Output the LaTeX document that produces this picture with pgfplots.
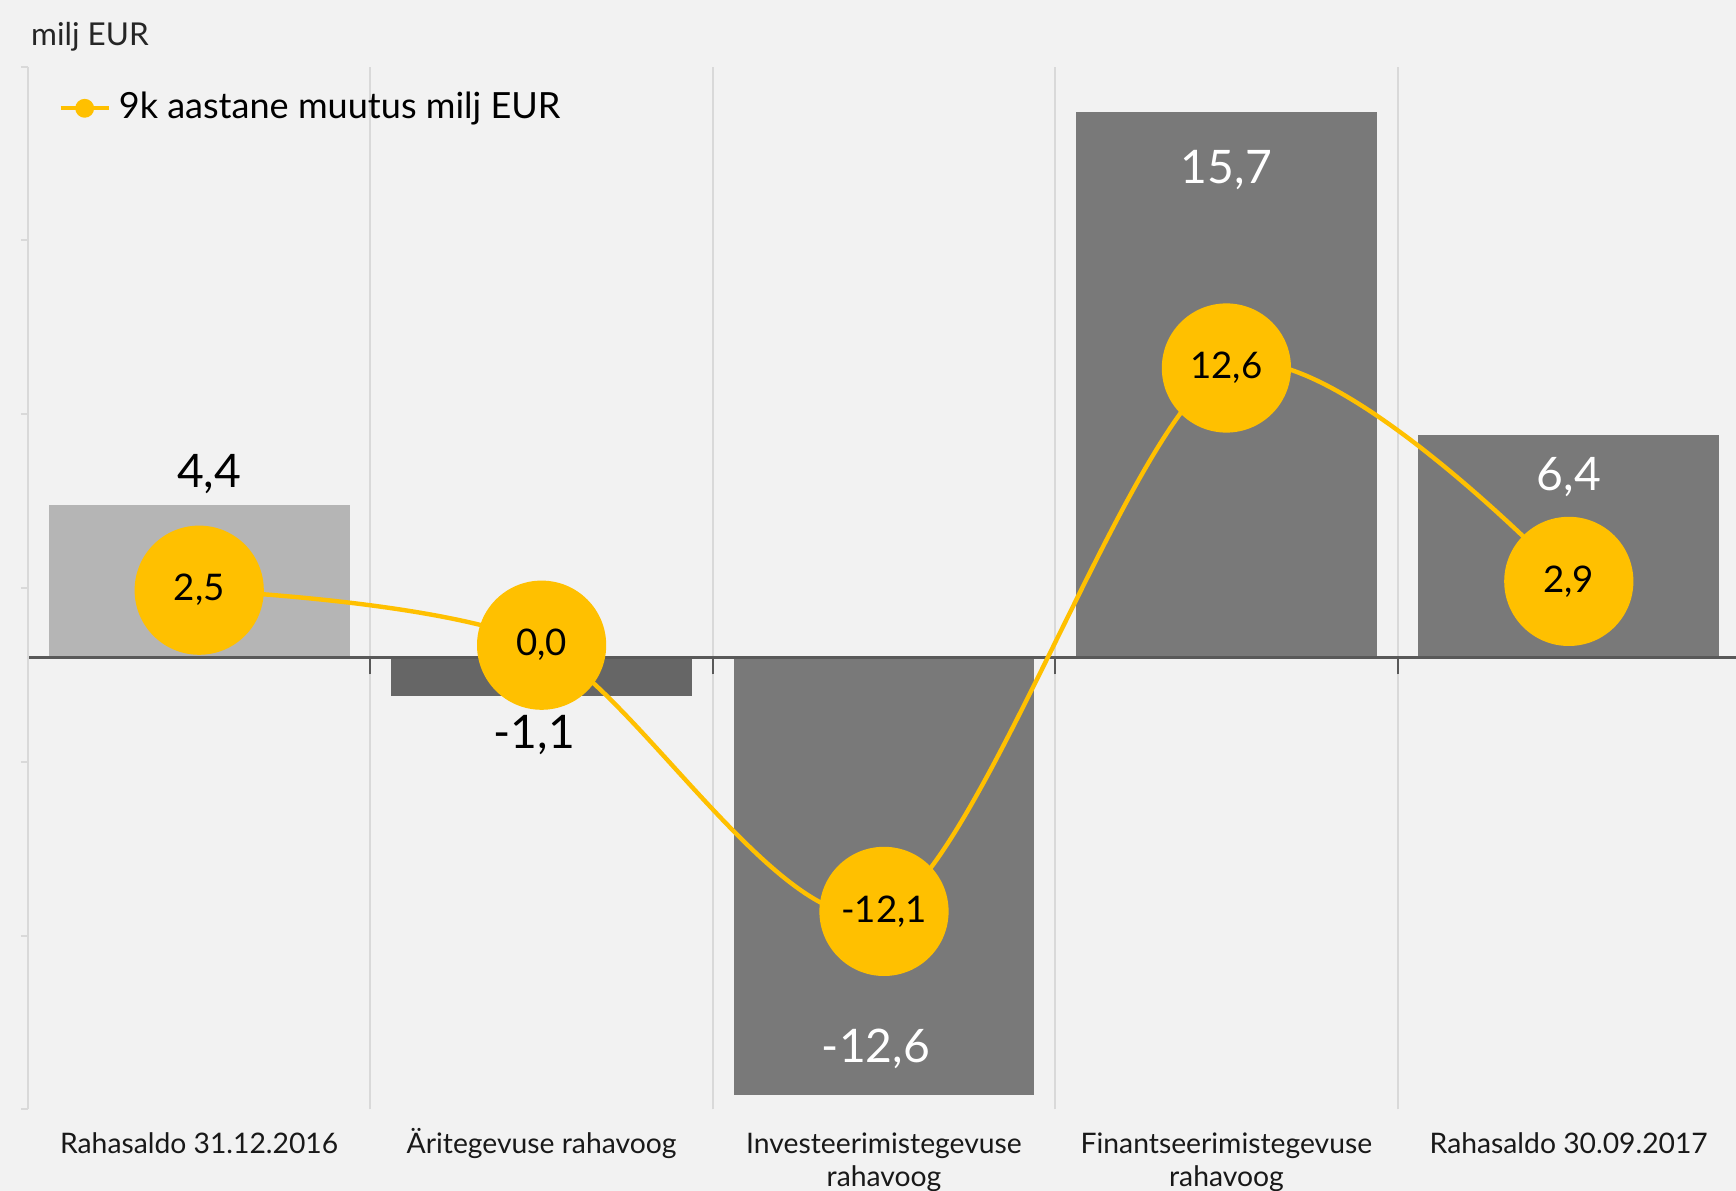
\documentclass[border=0pt]{standalone}
\usepackage{fontspec}
\setmainfont{Lato}
\usepackage{pgfplots}
\pgfplotsset{compat=1.18}

\definecolor{bg}{HTML}{F2F2F2}
\definecolor{barlight}{HTML}{B5B5B5}
\definecolor{bardark}{HTML}{666666}
\definecolor{barmid}{HTML}{797979}
\definecolor{gold}{HTML}{FFC000}
\definecolor{gridc}{HTML}{D9D9D9}
\definecolor{zeroc}{HTML}{595959}

\pgfplotsset{
  numfmt/.style={/pgf/number format/fixed, /pgf/number format/fixed zerofill,
    /pgf/number format/precision=1, /pgf/number format/use comma,
    /pgf/number format/assume math mode=true},
  barlab/.style={nodes near coords, point meta=y, numfmt,
    every node near coord/.append style={anchor=center, font=\fontsize{11.6}{14}\selectfont, #1}},
}

\begin{document}
\begin{tikzpicture}
\path[use as bounding box, fill=bg] (0,0) rectangle (434bp,297.75bp);
\node[anchor=west, inner sep=0pt, text=black!85, font=\fontsize{7.9}{9}\selectfont] at (7.6bp,288.6bp) {milj EUR};

% bars
\begin{axis}[
  at={(7bp,20.4bp)}, anchor=south west,
  scale only axis, width=428bp, height=260.7bp,
  xmin=-0.5, xmax=4.5, ymin=-13, ymax=17,
  axis on top,
  axis x line*=middle, axis y line*=left,
  x axis line style={zeroc, line width=0.55bp},
  y axis line style={gridc, line width=0.5bp},
  xtick={0.5,1.5,2.5,3.5,4.5}, xticklabels={},
  xmajorgrids=true,
  x grid style={gridc, line width=0.5bp},
  xtick style={zeroc, line width=0.5bp, /pgfplots/major tick length=4.2bp},
  xtick align=center,
  ytick={-13,-8,...,17}, yticklabels={},
  ytick style={gridc, line width=0.5bp, /pgfplots/major tick length=1.8bp},
  ytick align=outside,
  ybar, bar width=75.2bp, bar shift=0pt,
]
\addplot[fill=barlight, draw=none, barlab={black, yshift=7.7bp, xshift=2.5bp}] coordinates {(0,4.4)};
\addplot[fill=bardark, draw=none, barlab={black, yshift=-9.7bp, xshift=-1.8bp}] coordinates {(1,-1.1)};
\addplot[fill=barmid, draw=none, barlab={white, yshift=11.7bp, xshift=-2bp}] coordinates {(2,-12.6)};
\addplot[fill=barmid, draw=none, barlab={white, yshift=-14.6bp}] coordinates {(3,15.7)};
\addplot[fill=barmid, draw=none, barlab={white, yshift=-10.5bp}] coordinates {(4,6.4)};
\end{axis}

% line on secondary scale, category labels, legend
\begin{axis}[
  at={(7bp,20.4bp)}, anchor=south west,
  scale only axis, width=428bp, height=260.7bp,
  xmin=-0.5, xmax=4.5, ymin=-21.1, ymax=26.3,
  clip=false,
  hide y axis,
  axis x line*=bottom,
  x axis line style={draw=none},
  xtick={0,1,2,3,4},
  xtick style={draw=none},
  xticklabels={\vphantom{Ä}Rahasaldo 31.12.2016, Äritegevuse rahavoog, {\vphantom{Ä}Investeerimistegevuse\\rahavoog}, {\vphantom{Ä}Finantseerimistegevuse\\rahavoog}, \vphantom{Ä}Rahasaldo 30.09.2017},
  xticklabel style={align=center, text=black!90, font=\fontsize{7.1}{8.3}\selectfont, yshift=-1.1bp},
  legend style={at={(0.015,0.960)}, anchor=west, draw=none, fill=none,
    font=\fontsize{9.05}{11}\selectfont, inner sep=1bp},
  legend cell align=left,
]
\addplot[gold, line width=1.1bp, smooth, tension=0.5,
  mark=*, mark size=15.6bp, mark options={fill=gold, draw=none},
  nodes near coords, point meta=y, numfmt,
  every node near coord/.append style={anchor=center, text=black, font=\fontsize{9.2}{11}\selectfont},
  legend image code/.code={
    \draw[gold, line width=1.1bp] (0bp,0bp) -- (12bp,0bp);
    \fill[gold] (6bp,0bp) circle (1.8bp);
  }]
  coordinates {(0,2.5) (1,0) (2,-12.1) (3,12.6) (4,2.9)};
\addlegendentry{9k aastane muutus milj EUR}
\end{axis}
\end{tikzpicture}
\end{document}
